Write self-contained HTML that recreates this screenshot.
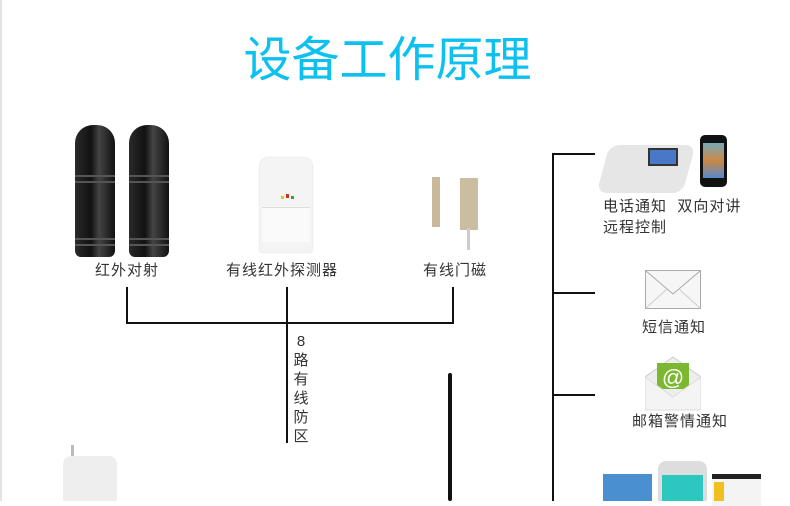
<!DOCTYPE html>
<html><head><meta charset="utf-8"><style>
body{margin:0;width:790px;height:501px;background:#fff;position:relative;overflow:hidden;font-family:"Liberation Sans","Noto Sans CJK SC",sans-serif;}
.a{position:absolute}
.t{position:absolute;font-size:15px;color:#333;white-space:nowrap;line-height:20px;letter-spacing:1px}
.l{position:absolute;background:#111}
.rib{position:absolute;height:2px;background:#555}
</style></head><body>
<div class="a" style="left:0;top:0;width:2px;height:501px;background:#e4e4e4"></div>
<div class="a" style="left:235px;top:31px;width:305px;text-align:center;font-size:48px;line-height:60px;color:#0cc0f0;letter-spacing:0px">设备工作原理</div>

<!-- beams -->
<div class="a" style="left:75px;top:125px;width:40px;height:132px;border-radius:18px 18px 6px 6px;background:linear-gradient(90deg,#2a2a2a,#111 40%,#444 60%,#111)"></div>
<div class="a" style="left:129px;top:125px;width:40px;height:132px;border-radius:18px 18px 6px 6px;background:linear-gradient(90deg,#2a2a2a,#111 40%,#444 60%,#111)"></div>
<div class="rib" style="left:75px;top:175px;width:40px"></div><div class="rib" style="left:75px;top:181px;width:40px"></div>
<div class="rib" style="left:75px;top:238px;width:40px"></div><div class="rib" style="left:75px;top:244px;width:40px"></div>
<div class="rib" style="left:129px;top:175px;width:40px"></div><div class="rib" style="left:129px;top:181px;width:40px"></div>
<div class="rib" style="left:129px;top:238px;width:40px"></div><div class="rib" style="left:129px;top:244px;width:40px"></div>
<div class="t" style="left:95px;top:261px">红外对射</div>
<!-- PIR -->
<div class="a" style="left:260px;top:158px;width:52px;height:94px;background:#f4f4f4;border-radius:8px 8px 2px 2px;box-shadow:0 0 2px #ccc"></div>
<div class="a" style="left:262px;top:207px;width:48px;height:34px;background:#fafafa;border-top:1px solid #ddd"></div>
<div class="a" style="left:281px;top:196px;width:3px;height:3px;background:#e8c020"></div>
<div class="a" style="left:286px;top:194px;width:3px;height:4px;background:#d03020"></div>
<div class="a" style="left:291px;top:196px;width:3px;height:3px;background:#30a040"></div>
<div class="t" style="left:226px;top:261px">有线红外探测器</div>
<!-- door -->
<div class="a" style="left:432px;top:177px;width:8px;height:50px;background:#c9b99a"></div>
<div class="a" style="left:460px;top:178px;width:18px;height:52px;background:#cbbd9f"></div>
<div class="a" style="left:467px;top:228px;width:3px;height:22px;background:#ccc"></div>
<div class="t" style="left:423px;top:261px">有线门磁</div>

<div class="l" style="left:126px;top:287px;width:2px;height:37px"></div>
<div class="l" style="left:452px;top:287px;width:2px;height:37px"></div>
<div class="l" style="left:126px;top:322px;width:328px;height:2px"></div>
<div class="l" style="left:286px;top:287px;width:2px;height:156px"></div>
<div class="t" style="left:293px;top:332px;width:16px;line-height:19px;white-space:normal;text-align:center;letter-spacing:0">8<br>路<br>有<br>线<br>防<br>区</div>

<!-- antenna -->
<div class="a" style="left:448px;top:373px;width:4px;height:128px;background:#111;border-radius:2px"></div>
<!-- bottom-left pir -->
<div class="a" style="left:71px;top:445px;width:3px;height:12px;background:#bbb"></div>
<div class="a" style="left:63px;top:456px;width:54px;height:45px;background:#eee;border-radius:8px 8px 0 0"></div>

<!-- right bus -->
<div class="l" style="left:552px;top:153px;width:2px;height:348px"></div>
<div class="l" style="left:552px;top:153px;width:43px;height:2px"></div>
<div class="l" style="left:552px;top:292px;width:43px;height:2px"></div>
<div class="l" style="left:552px;top:394px;width:43px;height:2px"></div>

<!-- phone -->
<div class="a" style="left:603px;top:145px;width:86px;height:48px;background:#e6e6e6;border-radius:10px;transform:skewX(-15deg)"></div>
<div class="a" style="left:648px;top:148px;width:26px;height:14px;background:#4a78c8;border:2px solid #333"></div>
<div class="a" style="left:700px;top:135px;width:27px;height:52px;background:#111;border-radius:5px"></div>
<div class="a" style="left:703px;top:143px;width:21px;height:35px;background:linear-gradient(#7ab,#c84,#58c)"></div>
<div class="t" style="left:603px;top:197px">电话通知&nbsp;&nbsp;双向对讲</div>
<div class="t" style="left:603px;top:218px">远程控制</div>

<!-- envelope -->
<svg class="a" style="left:645px;top:270px" width="57" height="40"><rect x="0.5" y="0.5" width="55" height="38" fill="#f6f6f6" stroke="#aaa"/><path d="M1 1 L28 24 L55 1" fill="none" stroke="#aaa"/><path d="M1 38 L22 19 M55 38 L34 19" stroke="#ccc" fill="none"/></svg>
<div class="t" style="left:642px;top:318px">短信通知</div>

<!-- mail icon -->
<svg class="a" style="left:645px;top:355px" width="56" height="56"><path d="M0 22 L28 2 L56 22 L56 55 L0 55Z" fill="#eee" stroke="#ccc"/><rect x="12" y="8" width="32" height="26" fill="#7cb82f"/><text x="28" y="30" font-size="22" fill="#fff" text-anchor="middle" font-family="Liberation Sans">@</text><path d="M0 22 L28 42 L56 22 L56 55 L0 55Z" fill="#f4f4f4" stroke="#ddd"/></svg>
<div class="t" style="left:632px;top:412px">邮箱警情通知</div>

<!-- screens -->
<div class="a" style="left:603px;top:474px;width:49px;height:27px;background:#4a8fd0"></div>
<div class="a" style="left:658px;top:461px;width:49px;height:40px;background:#ddd;border-radius:8px 8px 0 0"></div>
<div class="a" style="left:662px;top:475px;width:41px;height:26px;background:#2cc8c0"></div>
<div class="a" style="left:712px;top:474px;width:49px;height:27px;background:#f4f4f4;border-top:5px solid #222"></div>
<div class="a" style="left:714px;top:482px;width:10px;height:19px;background:#f0c020"></div>
</body></html>
